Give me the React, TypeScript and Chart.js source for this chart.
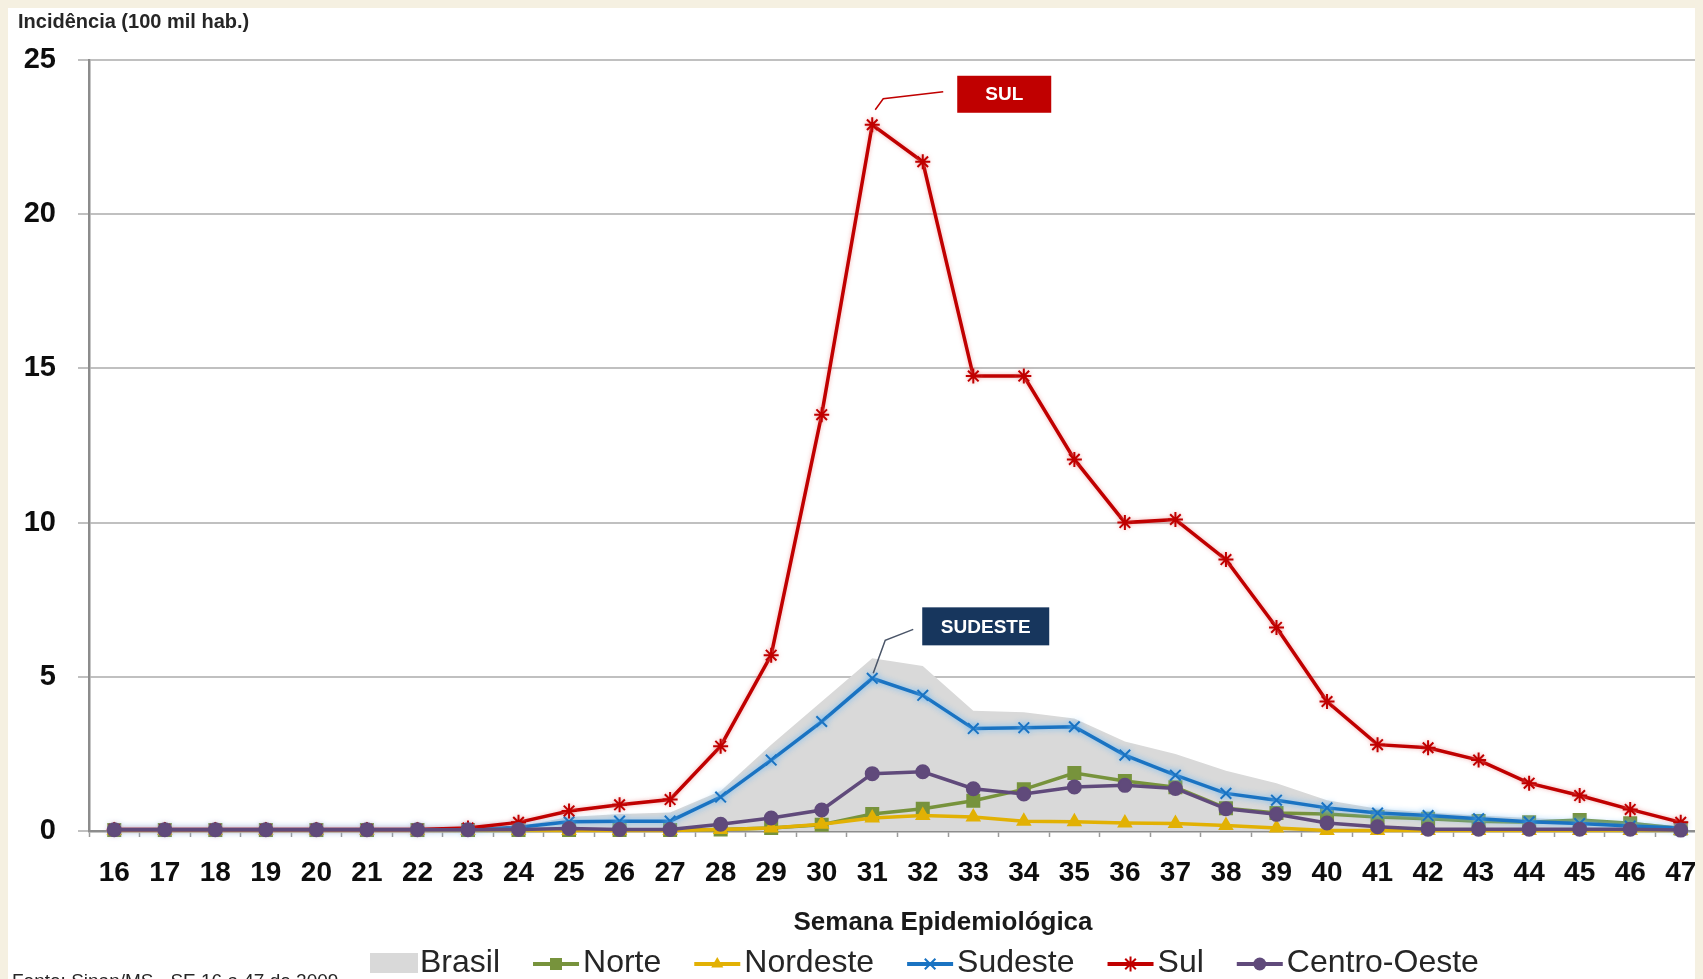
import React, { useEffect, useRef } from 'react';
import { Chart, registerables } from 'chart.js';

Chart.register(...registerables);

const weeks = ['16','17','18','19','20','21','22','23','24','25','26','27','28','29','30','31','32','33','34','35','36','37','38','39','40','41','42','43','44','45','46','47'];

const brasil = [0.05,0.05,0.05,0.05,0.05,0.05,0.05,0.08, 0.15,0.45,0.55,0.6, 1.3,2.8,4.2,5.6, 5.35,3.9,3.85,3.65, 2.9,2.5,1.95,1.55, 1.0,0.72,0.6,0.5, 0.42,0.35,0.3,0.15];
const norte = [0.03,0.03,0.03,0.03,0.03,0.03,0.03,0.03, 0.03,0.03,0.03,0.03, 0.05,0.1,0.2,0.55, 0.72,0.98,1.35,1.88, 1.62,1.42,0.74,0.58, 0.55,0.45,0.4,0.32, 0.28,0.36,0.25,0.08];
const nordeste = [0.02,0.02,0.02,0.02,0.02,0.02,0.02,0.02, 0.02,0.02,0.02,0.02, 0.05,0.1,0.22,0.42, 0.5,0.45,0.32,0.3, 0.26,0.24,0.18,0.1, 0.02,0.02,0.02,0.02, 0.02,0.02,0.02,0.02];
const sudeste = [0.05,0.05,0.05,0.05,0.05,0.05,0.05,0.05, 0.12,0.3,0.32,0.32, 1.1,2.3,3.55,4.95, 4.4,3.32,3.35,3.38, 2.46,1.81,1.22,1.0, 0.75,0.58,0.5,0.4, 0.3,0.24,0.16,0.1];
const sul = [0.05,0.05,0.05,0.05,0.05,0.05,0.05,0.1, 0.28,0.65,0.85,1.02, 2.75,5.7,13.5,22.9, 21.7,14.75,14.75,12.05, 10.0,10.1,8.8,6.6, 4.2,2.8,2.7,2.3, 1.55,1.15,0.7,0.28];
const centroOeste = [0.04,0.04,0.04,0.04,0.04,0.04,0.04,0.04, 0.05,0.08,0.05,0.05, 0.22,0.42,0.68,1.86, 1.92,1.37,1.2,1.43, 1.48,1.38,0.72,0.54, 0.26,0.14,0.06,0.06, 0.06,0.06,0.06,0.03];

const yTicks = [0, 5, 10, 15, 20, 25];
const yTitle = 'Incidência (100 mil hab.)';
const xTitle = 'Semana Epidemiológica';
const sourceText = 'Fonte: Sinan/MS - SE 16 a 47 de 2009';

const W = 1700;
const H = 971;

const COLORS = {
  brasil: '#d9d9d9',
  norte: '#77933c',
  nordeste: '#e2b104',
  sudeste: '#1a73c2',
  sul: '#c00000',
  co: '#604a7b',
};

function drawMarker(ctx: CanvasRenderingContext2D, style: string, x: number, y: number, r: number, color: string) {
  ctx.save();
  ctx.fillStyle = color;
  ctx.strokeStyle = color;
  ctx.lineWidth = 2;
  ctx.beginPath();
  if (style === 'rect') {
    const s = r * Math.SQRT1_2;
    ctx.rect(x - s, y - s, 2 * s, 2 * s);
    ctx.fill();
  } else if (style === 'triangle') {
    ctx.moveTo(x, y - r);
    ctx.lineTo(x + r * 0.866, y + r * 0.5);
    ctx.lineTo(x - r * 0.866, y + r * 0.5);
    ctx.closePath();
    ctx.fill();
  } else if (style === 'circle') {
    ctx.arc(x, y, r, 0, Math.PI * 2);
    ctx.fill();
  } else if (style === 'crossRot') {
    const d = r * Math.SQRT1_2;
    ctx.moveTo(x - d, y - d); ctx.lineTo(x + d, y + d);
    ctx.moveTo(x - d, y + d); ctx.lineTo(x + d, y - d);
    ctx.stroke();
  } else if (style === 'star') {
    const d = r * Math.SQRT1_2;
    ctx.moveTo(x - d, y - d); ctx.lineTo(x + d, y + d);
    ctx.moveTo(x - d, y + d); ctx.lineTo(x + d, y - d);
    ctx.moveTo(x, y - r); ctx.lineTo(x, y + r);
    ctx.moveTo(x - r, y); ctx.lineTo(x + r, y);
    ctx.stroke();
  }
  ctx.restore();
}

const glowPlugin = {
  id: 'glow',
  beforeDatasetDraw(chart: any, args: any) {
    const ds = chart.data.datasets[args.index];
    const ctx = chart.ctx;
    ctx.save();
    if (ds.label === 'Sudeste') {
      ctx.shadowColor = 'rgba(110,185,245,0.95)';
      ctx.shadowBlur = 6;
    } else if (ds.label === 'Sul') {
      ctx.shadowColor = 'rgba(235,130,130,0.6)';
      ctx.shadowBlur = 4;
    }
  },
  afterDatasetDraw(chart: any) {
    chart.ctx.restore();
  },
};

const decorPlugin = {
  id: 'decor',
  afterDraw(chart: any) {
    const ctx: CanvasRenderingContext2D = chart.ctx;
    const xs = chart.scales.x;
    const ys = chart.scales.y;
    ctx.save();

    // y title
    ctx.fillStyle = '#262626';
    ctx.font = 'bold 20px "Liberation Sans", Arial, sans-serif';
    ctx.textAlign = 'left';
    ctx.textBaseline = 'middle';
    ctx.fillText(yTitle, 10, 14);

    // x title
    ctx.fillStyle = '#1a1a1a';
    ctx.font = 'bold 26px "Liberation Sans", Arial, sans-serif';
    ctx.textAlign = 'center';
    ctx.fillText(xTitle, 935, 915);

    // legend
    const ly = 955;
    let lx = 362;
    ctx.font = '32px "Liberation Sans", Arial, sans-serif';
    ctx.textAlign = 'left';
    ctx.textBaseline = 'middle';
    chart.data.datasets.forEach((ds: any) => {
      if (ds.label === 'Brasil') {
        ctx.fillStyle = ds.backgroundColor;
        ctx.fillRect(lx, ly - 10, 48, 20);
        lx += 50;
      } else {
        ctx.strokeStyle = ds.borderColor;
        ctx.lineWidth = 4;
        ctx.beginPath();
        ctx.moveTo(lx, ly + 1);
        ctx.lineTo(lx + 46, ly + 1);
        ctx.stroke();
        drawMarker(ctx, ds.pointStyle, lx + 23, ly + 1, ds.pointRadius, ds.borderColor);
        lx += 50;
      }
      ctx.fillStyle = '#262626';
      ctx.fillText(ds.label, lx, ly);
      lx += ctx.measureText(ds.label).width + 33;
    });

    // source
    ctx.fillStyle = '#262626';
    ctx.font = '19px "Liberation Sans", Arial, sans-serif';
    ctx.textBaseline = 'alphabetic';
    ctx.fillText(sourceText, 4, 979);

    // annotations
    const i31 = weeks.indexOf('31');
    const px = xs.getPixelForValue(i31);
    const pSul = ys.getPixelForValue(sul[i31]);
    const pSud = ys.getPixelForValue(sudeste[i31]);

    // SUL
    ctx.strokeStyle = '#c00000';
    ctx.lineWidth = 1.5;
    ctx.beginPath();
    ctx.moveTo(px + 3, pSul - 15);
    ctx.lineTo(px + 11, pSul - 26);
    ctx.lineTo(px + 71, pSul - 33);
    ctx.stroke();
    ctx.fillStyle = '#c00000';
    ctx.fillRect(px + 85, pSul - 49, 94, 37);
    ctx.fillStyle = '#ffffff';
    ctx.font = 'bold 19px "Liberation Sans", Arial, sans-serif';
    ctx.textAlign = 'center';
    ctx.textBaseline = 'middle';
    ctx.fillText('SUL', px + 85 + 47, pSul - 49 + 19);

    // SUDESTE
    ctx.strokeStyle = '#4a5568';
    ctx.lineWidth = 1.5;
    ctx.beginPath();
    ctx.moveTo(px + 1, pSud - 5);
    ctx.lineTo(px + 13, pSud - 38);
    ctx.lineTo(px + 41, pSud - 49);
    ctx.stroke();
    ctx.fillStyle = '#17365d';
    ctx.fillRect(px + 50, pSud - 71, 127, 38);
    ctx.fillStyle = '#ffffff';
    ctx.fillText('SUDESTE', px + 50 + 63.5, pSud - 71 + 20);

    ctx.restore();
  },
};

export default function App() {
  const ref = useRef<HTMLCanvasElement>(null);
  useEffect(() => {
    document.documentElement.style.overflow = 'hidden';
    document.body.style.overflow = 'hidden';
    document.body.style.background = '#f5f0e1';
    const lineDs = (label: string, data: number[], color: string, style: string, radius: number, order: number) => ({
      label,
      data,
      borderColor: color,
      backgroundColor: color,
      borderWidth: 3.5,
      pointStyle: style,
      pointRadius: radius,
      pointBorderWidth: 2,
      pointBackgroundColor: color,
      pointBorderColor: color,
      tension: 0,
      fill: false,
      clip: false,
      order,
    });
    const chart = new Chart(ref.current!, {
      type: 'line',
      data: {
        labels: weeks,
        datasets: [
          {
            label: 'Brasil',
            data: brasil,
            fill: 'origin',
            backgroundColor: COLORS.brasil,
            borderColor: 'rgba(0,0,0,0)',
            borderWidth: 0,
            pointRadius: 0,
            tension: 0,
            order: 6,
          } as any,
          lineDs('Norte', norte, COLORS.norte, 'rect', 8.5, 5),
          lineDs('Nordeste', nordeste, COLORS.nordeste, 'triangle', 7, 4),
          lineDs('Sudeste', sudeste, COLORS.sudeste, 'crossRot', 7.5, 3),
          lineDs('Sul', sul, COLORS.sul, 'star', 7.5, 2),
          lineDs('Centro-Oeste', centroOeste, COLORS.co, 'circle', 6.5, 1),
        ],
      },
      options: {
        responsive: false,
        animation: false,
        events: [],
        layout: { autoPadding: false, padding: { top: 52, right: 2, bottom: 0, left: 0 } },
        plugins: {
          legend: { display: false },
          title: { display: false },
          tooltip: { enabled: false },
        },
        scales: {
          x: {
            type: 'category',
            offset: true,
            afterFit: (s: any) => { s.height = 148; s.paddingLeft = 0; s.paddingRight = 0; },
            grid: {
              offset: true,
              drawOnChartArea: false,
              drawTicks: true,
              tickLength: 6,
              tickWidth: 1.5,
              tickColor: '#9a9a9a',
              color: '#9a9a9a',
            },
            border: { display: true, color: '#8c8c8c', width: 2.5 },
            ticks: {
              autoSkip: false,
              maxRotation: 0,
              minRotation: 0,
              padding: 19,
              color: '#0d0d0d',
              font: { family: '"Liberation Sans", Arial, sans-serif', size: 28, weight: 'bold' },
            },
          },
          y: {
            min: 0,
            max: 25,
            afterFit: (s: any) => { s.width = 81; s.paddingTop = 0; s.paddingBottom = 0; },
            afterBuildTicks: (s: any) => { s.ticks = yTicks.map((v) => ({ value: v })); },
            grid: {
              color: '#c0c0c0',
              lineWidth: 2,
              drawTicks: true,
              tickLength: 11,
              tickColor: '#c0c0c0',
            },
            border: { display: true, color: '#8c8c8c', width: 2.5 },
            ticks: {
              padding: 22,
              color: '#0d0d0d',
              font: { family: '"Liberation Sans", Arial, sans-serif', size: 29, weight: 'bold' },
            },
          },
        },
      } as any,
      plugins: [glowPlugin, decorPlugin],
    });
    return () => chart.destroy();
  }, []);
  return (
    <div style={{ width: W, height: H, background: '#ffffff', position: 'relative', overflow: 'hidden' }}>
      <canvas ref={ref} width={W} height={H} style={{ display: 'block', width: W, height: H }} />
    </div>
  );
}
